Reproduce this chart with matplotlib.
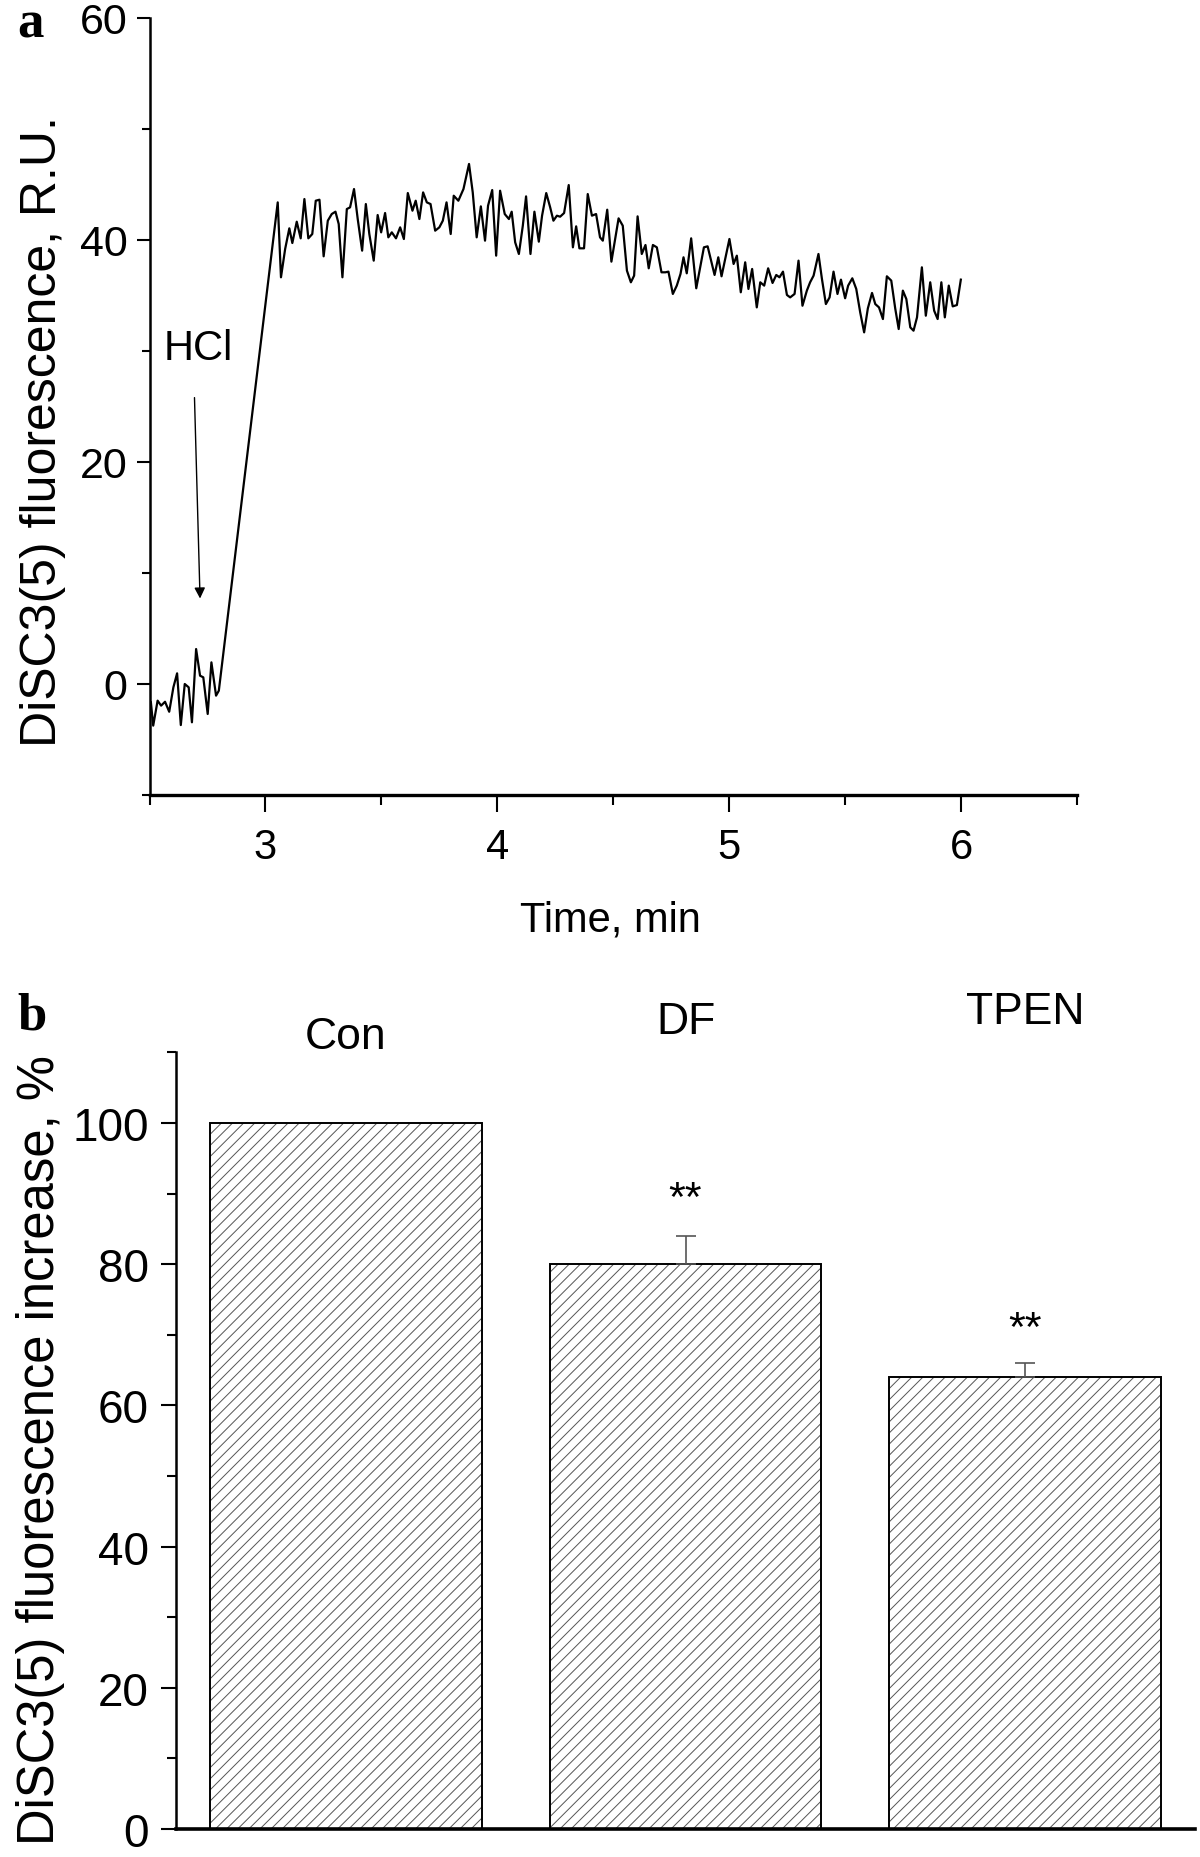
import matplotlib
matplotlib.use('Agg')
import matplotlib.pyplot as plt
from matplotlib.ticker import FixedLocator, MultipleLocator

# ---------------- data ----------------
time_min = [2.506, 2.516, 2.535, 2.550, 2.567, 2.585, 2.603, 2.619, 2.635, 2.652,
            2.669, 2.683, 2.701, 2.718, 2.732, 2.751, 2.767, 2.787, 2.799,
            3.053, 3.067, 3.085, 3.103, 3.116, 3.135, 3.152, 3.168, 3.185, 3.202,
            3.217, 3.233, 3.251, 3.269, 3.286, 3.302, 3.316, 3.332, 3.351, 3.365,
            3.382, 3.398, 3.417, 3.433, 3.448, 3.467, 3.484, 3.499, 3.516, 3.530,
            3.545, 3.563, 3.581, 3.597, 3.614, 3.634, 3.648, 3.664, 3.680, 3.696,
            3.712, 3.732, 3.750, 3.765, 3.781, 3.799, 3.812, 3.832, 3.854, 3.878,
            3.894, 3.911, 3.929, 3.947, 3.960, 3.978, 3.995, 4.012, 4.032, 4.050,
            4.062, 4.077, 4.093, 4.110, 4.124, 4.143, 4.160, 4.179, 4.193, 4.211,
            4.228, 4.242, 4.257, 4.271, 4.288, 4.308, 4.326, 4.340, 4.354, 4.374,
            4.390, 4.408, 4.426, 4.443, 4.455, 4.474, 4.492, 4.508, 4.523, 4.541,
            4.559, 4.576, 4.590, 4.605, 4.623, 4.639, 4.653, 4.671, 4.688, 4.708,
            4.725, 4.738, 4.757, 4.774, 4.790, 4.803, 4.817, 4.836, 4.858, 4.875,
            4.891, 4.907, 4.924, 4.937, 4.953, 4.967, 4.986, 5.001, 5.019, 5.033,
            5.050, 5.069, 5.083, 5.099, 5.119, 5.134,
            5.151, 5.168, 5.187, 5.203, 5.217, 5.232, 5.249, 5.263, 5.282, 5.299,
            5.316, 5.335, 5.349, 5.364, 5.385, 5.400, 5.417, 5.433, 5.450, 5.467,
            5.482, 5.500, 5.513, 5.531, 5.548, 5.565, 5.582, 5.598, 5.616, 5.630,
            5.646, 5.663, 5.680, 5.699, 5.716, 5.731, 5.749, 5.764, 5.781, 5.795,
            5.810, 5.831, 5.848, 5.867, 5.884, 5.899, 5.915, 5.930, 5.947, 5.964,
            5.982, 5.999]
fluor = [-1.65, -3.75, -1.5, -1.95, -1.6, -2.5, -0.3, 0.96, -3.7, 0.0,
         -0.3, -3.45, 3.15, 0.75, 0.6, -2.7, 1.95, -1.05, -0.6,
         43.39, 36.64, 39.19, 41.05, 39.73, 41.65, 40.15, 43.69, 40.15, 40.54,
         43.54, 43.63, 38.53, 41.74, 42.34, 42.55, 41.44, 36.64, 42.79, 42.94,
         44.59, 41.89, 39.04, 43.24, 40.54, 38.14, 42.25, 40.69, 42.43, 40.24,
         40.69, 40.15, 41.14, 40.09, 44.23, 42.64, 43.54, 41.89, 44.29, 43.39,
         43.24, 40.84, 41.14, 41.74, 43.39, 40.54, 43.99, 43.54, 44.59, 46.85,
         44.29, 40.24, 43.03, 39.94, 43.09, 44.50, 38.59, 44.44, 42.34, 41.89,
         42.55, 39.79, 38.74, 41.29, 43.93, 38.74, 42.55, 39.85, 42.19, 44.23,
         42.94, 41.74, 42.19, 42.10, 42.43, 44.95, 39.34, 41.23, 39.25, 39.25,
         44.14, 42.19, 42.34, 40.24, 39.94, 42.73, 38.05, 40.09, 41.95, 41.29,
         37.24, 36.19, 36.79, 42.13, 38.74, 39.55, 37.45, 39.55, 39.34, 37.09,
         37.09, 37.15, 35.14, 35.89, 36.94, 38.44, 37.00, 40.15, 35.65, 37.54,
         39.34, 39.43, 37.99, 36.85, 38.44, 36.73, 38.59, 40.09, 37.84, 38.59,
         35.29, 37.99, 35.59, 37.39, 33.93, 36.19,
         35.89, 37.45, 36.13, 36.85, 36.64, 37.15, 35.05, 34.83, 35.14, 38.14,
         34.08, 35.44, 36.19, 36.79, 38.74, 36.49, 34.23, 34.83, 37.15, 35.14,
         36.43, 34.75, 35.89, 36.55, 35.59, 33.48, 31.68, 33.84, 35.23, 34.23,
         33.93, 32.88, 36.73, 36.34, 33.84, 31.98, 35.44, 34.68, 32.13, 31.83,
         33.03, 37.54, 33.18, 36.19, 33.63, 32.88, 36.19, 33.03, 35.89, 34.02,
         34.14, 36.43]

x_ticks_a = [3, 4, 5, 6]
y_ticks_a = [0, 20, 40, 60]

categories = ['Con', 'DF', 'TPEN']
bar_values = [100, 80, 64]
bar_errors = [0, 4, 2]
significance = ['', '**', '**']
y_ticks_b = [0, 20, 40, 60, 80, 100]

# ---------------- figure ----------------
plt.rcParams['font.family'] = ['Liberation Sans', 'DejaVu Sans']
plt.rcParams['hatch.linewidth'] = 0.7

W, H = 1200, 1858
fig = plt.figure(figsize=(W / 100, H / 100), dpi=100)


def px_axes(l, t, r, b):
    return fig.add_axes([l / W, 1 - b / H, (r - l) / W, (b - t) / H])


# ---------- panel a ----------
ax1 = px_axes(149.5, 19, 1077, 796)
ax1.plot(time_min, fluor, color='black', lw=1.6)
ax1.set_xlim(2.5, 6.5)
ax1.set_ylim(-10, 60)
for s in ['top', 'right']:
    ax1.spines[s].set_visible(False)
ax1.spines['left'].set_linewidth(1.8)
ax1.spines['bottom'].set_linewidth(2.4)
ax1.xaxis.set_major_locator(FixedLocator(x_ticks_a))
ax1.xaxis.set_minor_locator(MultipleLocator(0.5))
ax1.yaxis.set_major_locator(FixedLocator(y_ticks_a))
ax1.yaxis.set_minor_locator(MultipleLocator(10))
ax1.tick_params(axis='x', which='major', direction='out', length=12, width=1.5,
                labelsize=30, pad=11)
ax1.tick_params(axis='x', which='minor', direction='out', length=7, width=1.5)
ax1.tick_params(axis='y', which='major', direction='out', length=9.4, width=1.5,
                labelsize=31, pad=6.5)
ax1.tick_params(axis='y', which='minor', direction='out', length=5.5, width=1.5)

ax1.text(2.709, 29.3, 'HCl', fontsize=30, ha='center', va='baseline')
ax1.annotate('', xy=(2.718, 7.7), xytext=(2.694, 25.8),
             arrowprops=dict(arrowstyle='-|>', color='black', lw=1.0,
                             mutation_scale=16, shrinkA=0, shrinkB=0))

fig.text(610 / W, 1 - 932 / H, 'Time, min', fontsize=30, ha='center', va='baseline')
fig.text(43 / W, 1 - 432 / H, 'DiSC3(5) fluorescence, R.U.', fontsize=36,
         rotation=90, ha='center', va='center')
fig.text(17 / W, 1 - 38 / H, 'a', fontsize=38, fontweight='bold',
         family=['Liberation Serif', 'DejaVu Serif'], ha='left', va='baseline')

# ---------- panel b ----------
ax2 = px_axes(176, 1053.4, 1195, 1830)
xpos = list(range(len(categories)))
ax2.bar(xpos, bar_values, width=0.8, color='white', edgecolor='#555555',
        hatch='///', linewidth=0, zorder=2)
ax2.bar(xpos, bar_values, width=0.8, fill=False, edgecolor='black',
        linewidth=1.4, zorder=3)
ex = [x for x, e in zip(xpos, bar_errors) if e > 0]
ev = [v for v, e in zip(bar_values, bar_errors) if e > 0]
ee = [e for e in bar_errors if e > 0]
ax2.errorbar(ex, ev, yerr=[[0] * len(ee), ee], fmt='none', ecolor='#555555',
             elinewidth=1.2, capsize=7, capthick=1.2, zorder=4)
ax2.set_xlim(-0.5, 2.5)
ax2.set_ylim(0, 110)
for s in ['top', 'right']:
    ax2.spines[s].set_visible(False)
ax2.spines['left'].set_linewidth(1.8)
ax2.spines['bottom'].set_linewidth(2.6)
ax2.set_xticks([])
ax2.yaxis.set_major_locator(FixedLocator(y_ticks_b))
ax2.yaxis.set_minor_locator(MultipleLocator(10))
ax2.tick_params(axis='y', which='major', direction='out', length=10.8, width=1.5,
                labelsize=33, pad=8.6)
ax2.tick_params(axis='y', which='minor', direction='out', length=6.5, width=1.5)

label_y = [112.2, 114.4, 115.8]
for x, name, ly in zip(xpos, categories, label_y):
    ax2.text(x, ly, name, fontsize=32, ha='center', va='center', clip_on=False)
sig_y = [0, 87.7, 69.3]
for x, s, sy in zip(xpos, significance, sig_y):
    if s:
        ax2.text(x, sy, s, fontsize=31, ha='center', va='baseline')

fig.text(41 / W, 1 - 1450 / H, 'DiSC3(5) fluorescence increase, %', fontsize=36.5,
         rotation=90, ha='center', va='center')
fig.text(17 / W, 1 - 1030 / H, 'b', fontsize=38, fontweight='bold',
         family=['Liberation Serif', 'DejaVu Serif'], ha='left', va='baseline')

fig.savefig('out.png', dpi=100)
